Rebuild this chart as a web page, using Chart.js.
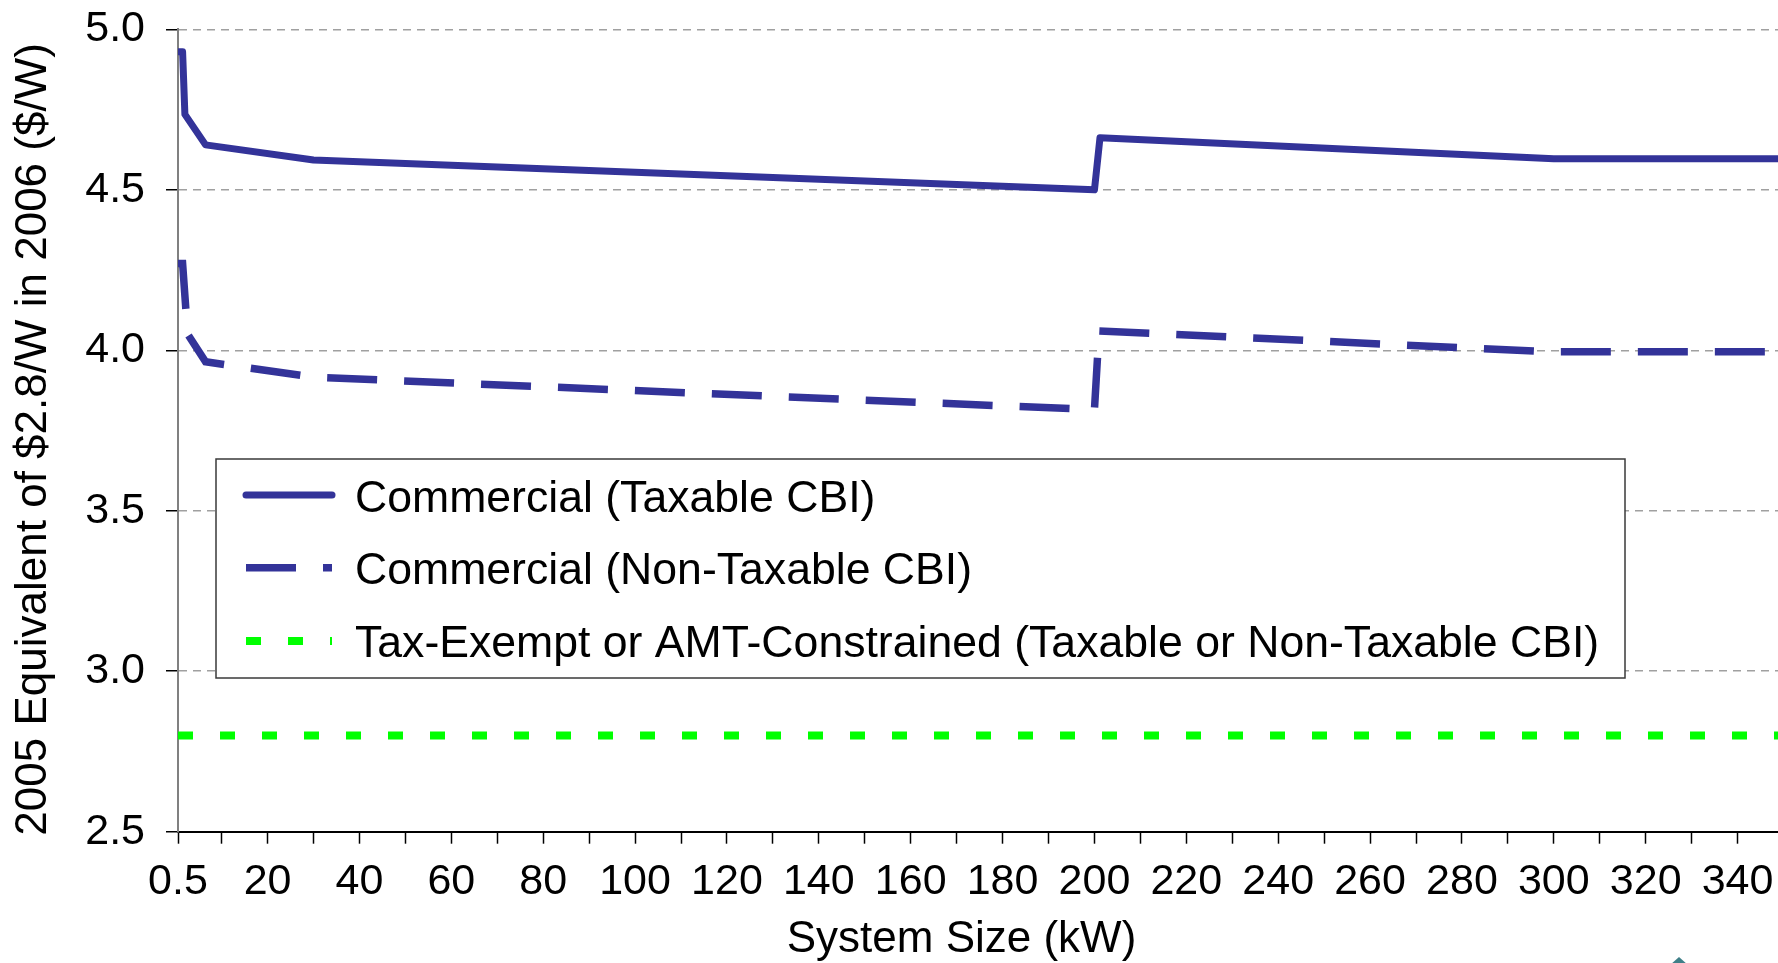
<!DOCTYPE html>
<html><head><meta charset="utf-8">
<script src="https://cdn.jsdelivr.net/npm/chart.js@4/dist/chart.umd.min.js"></script>
<style>
html,body{margin:0;padding:0;background:#fff;}
#wrap{position:relative;width:1778px;height:963px;overflow:hidden;}
canvas{display:block;}
#logo{position:absolute;left:1670px;top:957px;width:0;height:0;border-left:9px solid transparent;border-right:9px solid transparent;border-bottom:8px solid #3f7f88;}
</style></head><body>
<div id="wrap"><canvas id="c" width="1778" height="963"></canvas><div id="logo"></div></div>
<script>
// ---- data ----
const seriesLabels = [
  'Commercial (Taxable CBI)',
  'Commercial (Non-Taxable CBI)',
  'Tax-Exempt or AMT-Constrained (Taxable or Non-Taxable CBI)'
];
const sizesTaxable = [0.5, 1.5, 2, 6.5, 30, 200, 201.2, 300, 350];
const valuesTaxable = [4.93, 4.93, 4.735, 4.64, 4.593, 4.50, 4.662, 4.597, 4.597];
const sizesNonTaxable = [0.5, 1.5, 2.6, 6.5, 30, 200, 201, 300, 350];
const valuesNonTaxable = [4.27, 4.27, 4.05, 3.964, 3.916, 3.815, 4.06, 3.995, 3.995];
const sizesExempt = [0.5, 350];
const valuesExempt = [2.8, 2.8];
const xMajorTicks = [0.5, 20, 40, 60, 80, 100, 120, 140, 160, 180, 200, 220, 240, 260, 280, 300, 320, 340];
const xTickLabels = ['0.5', '20', '40', '60', '80', '100', '120', '140', '160', '180', '200', '220', '240', '260', '280', '300', '320', '340'];
const xMinorTicks = [10, 30, 50, 70, 90, 110, 130, 150, 170, 190, 210, 230, 250, 270, 290, 310, 330];
const yTickValues = [2.5, 3.0, 3.5, 4.0, 4.5, 5.0];
const yTickLabels = ['2.5', '3.0', '3.5', '4.0', '4.5', '5.0'];
const xTitle = 'System Size (kW)';
const yTitle = '2005 Equivalent of $2.8/W in 2006 ($/W)';

// ---- build ----
const FONT = '"Liberation Sans", Arial, Helvetica, sans-serif';
const toPts = (xs, ys) => xs.map((x, i) => ({x: x, y: ys[i]}));
const xLabelMap = {};
xMajorTicks.forEach((v, i) => { xLabelMap[v] = xTickLabels[i]; });
const xAllTicks = xMajorTicks.concat(xMinorTicks).sort((a, b) => a - b);
const yLabelMap = {};
yTickValues.forEach((v, i) => { yLabelMap[v] = yTickLabels[i]; });

const legendPlugin = {
  id: 'boxLegend',
  afterDatasetsDraw(chart) {
    const ctx = chart.ctx;
    ctx.save();
    ctx.fillStyle = '#fff';
    ctx.fillRect(216, 459, 1409, 219);
    ctx.lineWidth = 1.5;
    ctx.strokeStyle = '#3a3a3a';
    ctx.strokeRect(216, 459, 1409, 219);
    const lineRows = [495, 567.7, 641];
    const textRows = [499.5, 572, 645];
    chart.data.datasets.forEach((ds, i) => {
      const y = lineRows[i];
      ctx.beginPath();
      ctx.setLineDash(ds.borderDash || []);
      ctx.lineCap = ds.borderCapStyle || 'butt';
      ctx.lineWidth = ds.borderWidth;
      ctx.strokeStyle = ds.borderColor;
      ctx.moveTo(246, y);
      ctx.lineTo(332, y);
      ctx.stroke();
      ctx.setLineDash([]);
      ctx.fillStyle = '#000';
      ctx.font = '44.6px ' + FONT;
      ctx.textBaseline = 'middle';
      ctx.textAlign = 'left';
      ctx.fillText(ds.label, 355, textRows[i]);
    });
    ctx.restore();
  }
};

const titlePlugin = {
  id: 'axisTitles',
  afterDraw(chart) {
    const ctx = chart.ctx;
    ctx.save();
    ctx.fillStyle = '#000';
    ctx.font = '44px ' + FONT;
    ctx.textAlign = 'center';
    ctx.textBaseline = 'middle';
    ctx.fillText(xTitle, 961.5, 939.5);
    ctx.translate(34, 439.4);
    ctx.rotate(-Math.PI / 2);
    ctx.fillText(yTitle, 0, 0);
    ctx.restore();
  }
};

new Chart(document.getElementById('c'), {
  type: 'line',
  data: {
    datasets: [
      {label: seriesLabels[0], data: toPts(sizesTaxable, valuesTaxable), borderColor: '#333399', borderWidth: 7, borderCapStyle: 'round', borderJoinStyle: 'round', pointRadius: 0, tension: 0, fill: false},
      {label: seriesLabels[1], data: toPts(sizesNonTaxable, valuesNonTaxable), borderColor: '#333399', borderWidth: 7.5, borderDash: [50, 27], borderCapStyle: 'butt', borderJoinStyle: 'miter', pointRadius: 0, tension: 0, fill: false},
      {label: seriesLabels[2], data: toPts(sizesExempt, valuesExempt), borderColor: '#00ff00', borderWidth: 8, borderDash: [15, 27], borderCapStyle: 'butt', pointRadius: 0, tension: 0, fill: false}
    ]
  },
  options: {
    responsive: false,
    animation: false,
    events: [],
    layout: {padding: {top: 29.3, right: 0, bottom: 0, left: 0}},
    plugins: {legend: {display: false}, tooltip: {enabled: false}, title: {display: false}},
    scales: {
      x: {
        type: 'linear', min: 0.5, max: 348.8,
        afterBuildTicks: s => { s.ticks = xAllTicks.map(v => ({value: v})); },
        afterFit: s => { s.height = 131.3; s.paddingLeft = 0; s.paddingRight = 0; },
        ticks: {autoSkip: false, maxRotation: 0, minRotation: 0, padding: 13, color: '#000',
          font: {family: FONT, size: 43}, callback: v => (xLabelMap[v] !== undefined ? xLabelMap[v] : '')},
        grid: {drawOnChartArea: false, drawTicks: true, tickLength: 12, tickColor: '#000', tickWidth: 1.5, color: '#000'},
        border: {display: true, color: '#000', width: 2}
      },
      y: {
        type: 'linear', min: 2.5, max: 5.0,
        afterBuildTicks: s => { s.ticks = yTickValues.map(v => ({value: v})); },
        afterFit: s => { s.width = 178; s.paddingTop = 0; s.paddingBottom = 0; },
        ticks: {padding: 21, color: '#000', font: {family: FONT, size: 43},
          callback: v => (yLabelMap[v] !== undefined ? yLabelMap[v] : '')},
        grid: {color: c => (c.tick && c.tick.value === 2.5 ? 'rgba(0,0,0,0)' : '#a0a0a0'), lineWidth: 1.5,
          drawTicks: true, tickLength: 12, tickColor: '#000', tickWidth: 1.5},
        border: {display: true, color: '#808080', width: 2, dash: [8, 6]}
      }
    }
  },
  plugins: [legendPlugin, titlePlugin]
});
</script>
</body></html>
